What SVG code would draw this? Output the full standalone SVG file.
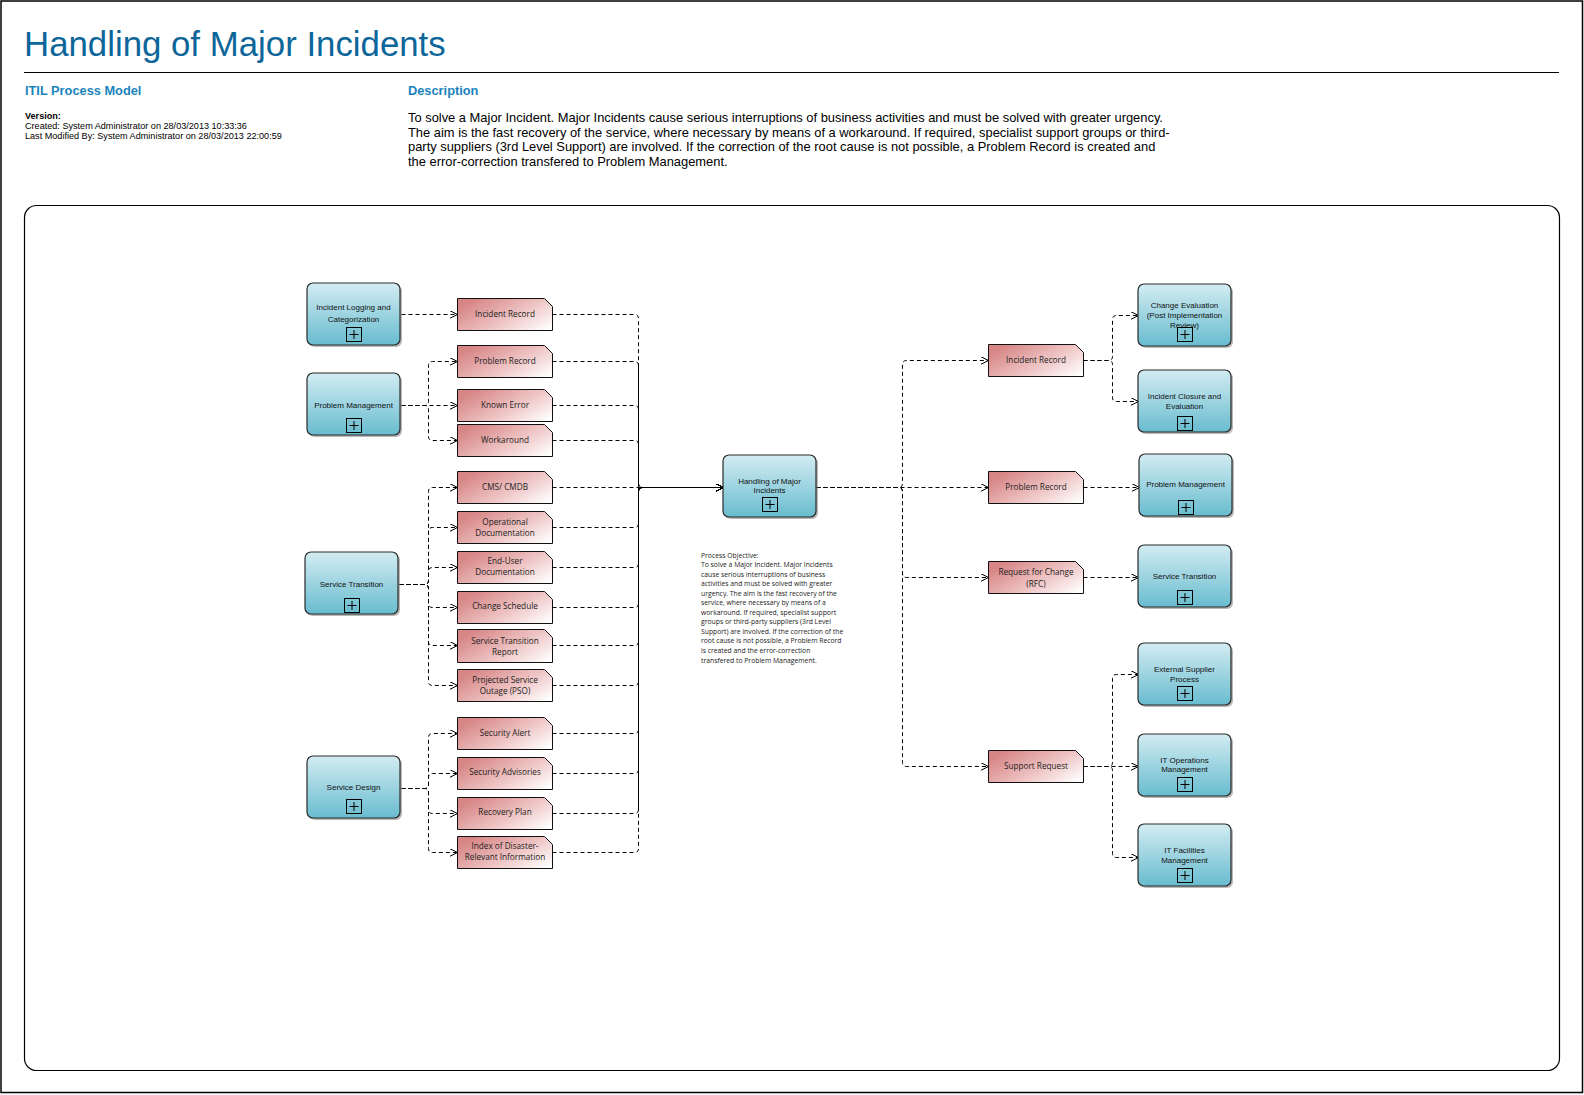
<svg xmlns="http://www.w3.org/2000/svg" width="1584" height="1095" viewBox="0 0 1584 1095">
<defs>
<linearGradient id="gBox" x1="0" y1="0" x2="0" y2="1">
<stop offset="0" stop-color="#d3ecf2"/>
<stop offset="1" stop-color="#68bccf"/>
</linearGradient>
<linearGradient id="gDoc" x1="0" y1="0.3" x2="1" y2="0.9">
<stop offset="0" stop-color="#d78585"/>
<stop offset="0.55" stop-color="#efc5c5"/>
<stop offset="1" stop-color="#ffffff"/>
</linearGradient>
<marker id="arr" markerWidth="10" markerHeight="10" refX="8" refY="4" orient="auto" markerUnits="userSpaceOnUse">
<path d="M0,0 L8,4 L0,8" fill="none" stroke="#000" stroke-width="1" stroke-dasharray="none"/>
</marker>
<style>
.box{fill:url(#gBox);stroke:#2a2a2a;stroke-width:1.2}
.shadow{fill:#7d7d7d;opacity:.55}
.doc{fill:url(#gDoc);stroke:#111;stroke-width:1}
.plus{fill:none;stroke:#000;stroke-width:1}
.lbl{font-family:"Liberation Sans",Arial,sans-serif;font-size:8px;fill:#111;text-anchor:middle}
.dl{font-family:"Open Sans",sans-serif;font-size:8.2px;fill:#222;text-anchor:middle}
.con{fill:none;stroke:#000;stroke-width:1;stroke-dasharray:4 3;marker-end:url(#arr)}
.trunk{fill:none;stroke:#000;stroke-width:1}
.hdr{font-family:"Liberation Sans",Arial,sans-serif}
.obj{font-family:"Open Sans",sans-serif;font-size:6.8px;fill:#222}
</style>
</defs>
<rect x="0" y="0" width="1584" height="1095" fill="#fff"/>
<rect x="1" y="1" width="1581.5" height="1091.5" fill="none" stroke="#000" stroke-width="1.5"/>

<g id="header" class="hdr">
<text x="24" y="56" font-size="34.8" fill="#0d6699">Handling of Major Incidents</text>
<line x1="24" y1="72.5" x2="1559" y2="72.5" stroke="#000" stroke-width="1"/>
<text x="25" y="95" font-size="12.8" font-weight="bold" fill="#1b84bd">ITIL Process Model</text>
<text x="25" y="119" font-size="9.1" font-weight="bold" fill="#000">Version:</text>
<text x="25" y="129" font-size="9.1" fill="#000">Created: System Administrator on 28/03/2013 10:33:36</text>
<text x="25" y="139" font-size="9.1" fill="#000">Last Modified By: System Administrator on 28/03/2013 22:00:59</text>
<text x="408" y="95" font-size="12.8" font-weight="bold" fill="#1b84bd">Description</text>
<text x="408" y="121.5" font-size="12.9" fill="#000">To solve a Major Incident. Major Incidents cause serious interruptions of business activities and must be solved with greater urgency.</text>
<text x="408" y="136.5" font-size="12.9" fill="#000">The aim is the fast recovery of the service, where necessary by means of a workaround. If required, specialist support groups or third-</text>
<text x="408" y="151" font-size="12.9" fill="#000">party suppliers (3rd Level Support) are involved. If the correction of the root cause is not possible, a Problem Record is created and</text>
<text x="408" y="166" font-size="12.9" fill="#000">the error-correction transfered to Problem Management.</text>
</g>

<rect id="frame" x="24.5" y="205.5" width="1535" height="865" rx="12" fill="none" stroke="#000" stroke-width="1.2"/>

<g id="connectors" transform="translate(0.5,0.5)">
<path class="con" d="M401,314 H457"/>
<path class="con" d="M401,405 H424 Q428,405 428,401 V365 Q428,361 432,361 H457"/>
<path class="con" d="M401,405 H457"/>
<path class="con" d="M401,405 H424 Q428,405 428,409 V436 Q428,440 432,440 H457"/>
<path class="con" d="M399,584 H424 Q428,584 428,580 V491 Q428,487 432,487 H457"/>
<path class="con" d="M399,584 H424 Q428,584 428,580 V531 Q428,527 432,527 H457"/>
<path class="con" d="M399,584 H424 Q428,584 428,580 V571 Q428,567 432,567 H457"/>
<path class="con" d="M399,584 H424 Q428,584 428,588 V603 Q428,607 432,607 H457"/>
<path class="con" d="M399,584 H424 Q428,584 428,588 V641 Q428,645 432,645 H457"/>
<path class="con" d="M399,584 H424 Q428,584 428,588 V681 Q428,685 432,685 H457"/>
<path class="con" d="M401,788 H424 Q428,788 428,784 V737 Q428,733 432,733 H457"/>
<path class="con" d="M401,788 H424 Q428,788 428,784 V777 Q428,773 432,773 H457"/>
<path class="con" d="M401,788 H424 Q428,788 428,792 V809 Q428,813 432,813 H457"/>
<path class="con" d="M401,788 H424 Q428,788 428,792 V848 Q428,852 432,852 H457"/>
<path class="trunk" d="M638,365 V809 M642,487 H715"/>
<path class="con" d="M552,314 H634 Q638,314 638,318 V483 Q638,487 642,487 H723"/>
<path class="con" d="M552,361 H634 Q638,361 638,365 V483 Q638,487 642,487 H723"/>
<path class="con" d="M552,405 H634 Q638,405 638,409 V483 Q638,487 642,487 H723"/>
<path class="con" d="M552,440 H634 Q638,440 638,444 V483 Q638,487 642,487 H723"/>
<path class="con" d="M552,487 H723"/>
<path class="con" d="M552,527 H634 Q638,527 638,523 V491 Q638,487 642,487 H723"/>
<path class="con" d="M552,567 H634 Q638,567 638,563 V491 Q638,487 642,487 H723"/>
<path class="con" d="M552,607 H634 Q638,607 638,603 V491 Q638,487 642,487 H723"/>
<path class="con" d="M552,645 H634 Q638,645 638,641 V491 Q638,487 642,487 H723"/>
<path class="con" d="M552,685 H634 Q638,685 638,681 V491 Q638,487 642,487 H723"/>
<path class="con" d="M552,733 H634 Q638,733 638,729 V491 Q638,487 642,487 H723"/>
<path class="con" d="M552,773 H634 Q638,773 638,769 V491 Q638,487 642,487 H723"/>
<path class="con" d="M552,813 H634 Q638,813 638,809 V491 Q638,487 642,487 H723"/>
<path class="con" d="M552,852 H634 Q638,852 638,848 V491 Q638,487 642,487 H723"/>
<path class="con" d="M816,487 H898 Q902,487 902,483 V364 Q902,360 906,360 H988"/>
<path class="con" d="M816,487 H988"/>
<path class="con" d="M816,487 H898 Q902,487 902,491 V573 Q902,577 906,577 H988"/>
<path class="con" d="M816,487 H898 Q902,487 902,491 V762 Q902,766 906,766 H988"/>
<path class="con" d="M1083,360 H1108 Q1112,360 1112,356 V319 Q1112,315 1116,315 H1138"/>
<path class="con" d="M1083,360 H1108 Q1112,360 1112,364 V397 Q1112,401 1116,401 H1138"/>
<path class="con" d="M1083,487 H1139"/>
<path class="con" d="M1083,577 H1138"/>
<path class="con" d="M1083,766 H1108 Q1112,766 1112,762 V678 Q1112,674 1116,674 H1138"/>
<path class="con" d="M1083,766 H1138"/>
<path class="con" d="M1083,766 H1108 Q1112,766 1112,770 V853 Q1112,857 1116,857 H1138"/>
</g>

<g id="n-incident-logging">
<rect class="shadow" x="309" y="285" width="93" height="62" rx="6"/>
<rect class="box" x="307" y="283" width="93" height="62" rx="6"/>
<text class="lbl" x="353.5" y="310.3">Incident Logging and</text>
<text class="lbl" x="353.5" y="322">Categorization</text>
<rect class="plus" x="346.5" y="327.5" width="15" height="14"/>
<path class="plus" d="M349.5,334.5 H358.5 M354,330 V339"/>
</g>
<g id="n-problem-mgmt-left">
<rect class="shadow" x="309" y="375" width="93" height="62" rx="6"/>
<rect class="box" x="307" y="373" width="93" height="62" rx="6"/>
<text class="lbl" x="353.5" y="408">Problem Management</text>
<rect class="plus" x="346.5" y="418.5" width="15" height="14"/>
<path class="plus" d="M349.5,425.5 H358.5 M354,421 V430"/>
</g>
<g id="n-service-transition-left">
<rect class="shadow" x="307" y="554" width="93" height="62" rx="6"/>
<rect class="box" x="305" y="552" width="93" height="62" rx="6"/>
<text class="lbl" x="351.5" y="587">Service Transition</text>
<rect class="plus" x="344.5" y="598.5" width="15" height="14"/>
<path class="plus" d="M347.5,605.5 H356.5 M352,601 V610"/>
</g>
<g id="n-service-design">
<rect class="shadow" x="309" y="758" width="93" height="62" rx="6"/>
<rect class="box" x="307" y="756" width="93" height="62" rx="6"/>
<text class="lbl" x="353.5" y="790">Service Design</text>
<rect class="plus" x="346.5" y="799.5" width="15" height="14"/>
<path class="plus" d="M349.5,806.5 H358.5 M354,802 V811"/>
</g>

<g transform="translate(0.5,0.5)">
<g id="d-incident-record-l"><path class="doc" d="M457,298 H544 L552,306 V330 H457 Z"/><text class="dl" x="504.5" y="316.5">Incident Record</text></g>
<g id="d-problem-record-l"><path class="doc" d="M457,345 H544 L552,353 V377 H457 Z"/><text class="dl" x="504.5" y="363.5">Problem Record</text></g>
<g id="d-known-error"><path class="doc" d="M457,389 H544 L552,397 V421 H457 Z"/><text class="dl" x="504.5" y="407.5">Known Error</text></g>
<g id="d-workaround"><path class="doc" d="M457,424 H544 L552,432 V456 H457 Z"/><text class="dl" x="504.5" y="442.5">Workaround</text></g>
<g id="d-cms"><path class="doc" d="M457,471 H544 L552,479 V503 H457 Z"/><text class="dl" x="504.5" y="489.5">CMS/ CMDB</text></g>
<g id="d-op-doc"><path class="doc" d="M457,511 H544 L552,519 V543 H457 Z"/><text class="dl" x="504.5" y="524">Operational</text><text class="dl" x="504.5" y="535">Documentation</text></g>
<g id="d-enduser-doc"><path class="doc" d="M457,551 H544 L552,559 V583 H457 Z"/><text class="dl" x="504.5" y="563">End-User</text><text class="dl" x="504.5" y="574.5">Documentation</text></g>
<g id="d-change-schedule"><path class="doc" d="M457,591 H544 L552,599 V623 H457 Z"/><text class="dl" x="504.5" y="608.5">Change Schedule</text></g>
<g id="d-st-report"><path class="doc" d="M457,629 H544 L552,637 V662 H457 Z"/><text class="dl" x="504.5" y="643">Service Transition</text><text class="dl" x="504.5" y="654">Report</text></g>
<g id="d-pso"><path class="doc" d="M457,669 H544 L552,677 V701 H457 Z"/><text class="dl" x="504.5" y="682.3">Projected Service</text><text class="dl" x="504.5" y="693">Outage (PSO)</text></g>
<g id="d-security-alert"><path class="doc" d="M457,717 H544 L552,725 V749 H457 Z"/><text class="dl" x="504.5" y="735.3">Security Alert</text></g>
<g id="d-security-advisories"><path class="doc" d="M457,757 H544 L552,765 V789 H457 Z"/><text class="dl" x="504.5" y="774.7">Security Advisories</text></g>
<g id="d-recovery-plan"><path class="doc" d="M457,797 H544 L552,805 V829 H457 Z"/><text class="dl" x="504.5" y="814.7">Recovery Plan</text></g>
<g id="d-index-disaster"><path class="doc" d="M457,836 H544 L552,844 V868 H457 Z"/><text class="dl" x="504.5" y="848">Index of Disaster-</text><text class="dl" x="504.5" y="859.7">Relevant Information</text></g>

<g id="d-incident-record-r"><path class="doc" d="M988,344 H1075 L1083,352 V376 H988 Z"/><text class="dl" x="1035.5" y="362.5">Incident Record</text></g>
<g id="d-problem-record-r"><path class="doc" d="M988,471 H1075 L1083,479 V503 H988 Z"/><text class="dl" x="1035.5" y="489.5">Problem Record</text></g>
<g id="d-rfc"><path class="doc" d="M988,561 H1075 L1083,569 V593 H988 Z"/><text class="dl" x="1035.5" y="574.5">Request for Change</text><text class="dl" x="1035.5" y="586">(RFC)</text></g>
<g id="d-support-request"><path class="doc" d="M988,750 H1075 L1083,758 V782 H988 Z"/><text class="dl" x="1035.5" y="768.5">Support Request</text></g>
</g>

<g id="n-handling-major-incidents">
<rect class="shadow" x="725" y="457" width="93" height="62" rx="6"/>
<rect class="box" x="723" y="455" width="93" height="62" rx="6"/>
<text class="lbl" x="769.5" y="483.5">Handling of Major</text>
<text class="lbl" x="769.5" y="493">Incidents</text>
<rect class="plus" x="762.5" y="497.5" width="15" height="14"/>
<path class="plus" d="M765.5,504.5 H774.5 M770,500 V509"/>
</g>

<g id="process-objective" class="obj">
<text x="701" y="557.5">Process Objective:</text>
<text x="701" y="567">To solve a Major Incident. Major Incidents</text>
<text x="701" y="576.6">cause serious interruptions of business</text>
<text x="701" y="586.1">activities and must be solved with greater</text>
<text x="701" y="595.7">urgency. The aim is the fast recovery of the</text>
<text x="701" y="605.2">service, where necessary by  means of a</text>
<text x="701" y="614.8">workaround. If required, specialist support</text>
<text x="701" y="624.3">groups or third-party suppliers (3rd Level</text>
<text x="701" y="633.9">Support) are  involved. If the correction of the</text>
<text x="701" y="643.4">root cause is not   possible, a Problem Record</text>
<text x="701" y="653">is created and the   error-correction</text>
<text x="701" y="662.5">transfered to Problem Management.</text>
</g>

<g id="n-change-evaluation">
<rect class="shadow" x="1140" y="286" width="93" height="62" rx="6"/>
<rect class="box" x="1138" y="284" width="93" height="62" rx="6"/>
<text class="lbl" x="1184.5" y="308">Change Evaluation</text>
<text class="lbl" x="1184.5" y="318">(Post Implementation</text>
<text class="lbl" x="1184.5" y="328">Review)</text>
<rect class="plus" x="1177.5" y="327.5" width="15" height="14"/>
<path class="plus" d="M1180.5,334.5 H1189.5 M1185,330 V339"/>
</g>
<g id="n-incident-closure">
<rect class="shadow" x="1140" y="372" width="93" height="62" rx="6"/>
<rect class="box" x="1138" y="370" width="93" height="62" rx="6"/>
<text class="lbl" x="1184.5" y="399">Incident Closure and</text>
<text class="lbl" x="1184.5" y="408.5">Evaluation</text>
<rect class="plus" x="1177.5" y="416.5" width="15" height="14"/>
<path class="plus" d="M1180.5,423.5 H1189.5 M1185,419 V428"/>
</g>
<g id="n-problem-mgmt-right">
<rect class="shadow" x="1141" y="456" width="93" height="62" rx="6"/>
<rect class="box" x="1139" y="454" width="93" height="62" rx="6"/>
<text class="lbl" x="1185.5" y="487">Problem Management</text>
<rect class="plus" x="1178.5" y="500.5" width="15" height="14"/>
<path class="plus" d="M1181.5,507.5 H1190.5 M1186,503 V512"/>
</g>
<g id="n-service-transition-right">
<rect class="shadow" x="1140" y="547" width="93" height="62" rx="6"/>
<rect class="box" x="1138" y="545" width="93" height="62" rx="6"/>
<text class="lbl" x="1184.5" y="579">Service Transition</text>
<rect class="plus" x="1177.5" y="590.5" width="15" height="14"/>
<path class="plus" d="M1180.5,597.5 H1189.5 M1185,593 V602"/>
</g>
<g id="n-external-supplier">
<rect class="shadow" x="1140" y="645" width="93" height="62" rx="6"/>
<rect class="box" x="1138" y="643" width="93" height="62" rx="6"/>
<text class="lbl" x="1184.5" y="672">External Supplier</text>
<text class="lbl" x="1184.5" y="681.5">Process</text>
<rect class="plus" x="1177.5" y="686.5" width="15" height="14"/>
<path class="plus" d="M1180.5,693.5 H1189.5 M1185,689 V698"/>
</g>
<g id="n-it-operations">
<rect class="shadow" x="1140" y="736" width="93" height="62" rx="6"/>
<rect class="box" x="1138" y="734" width="93" height="62" rx="6"/>
<text class="lbl" x="1184.5" y="763">IT Operations</text>
<text class="lbl" x="1184.5" y="772">Management</text>
<rect class="plus" x="1177.5" y="777.5" width="15" height="14"/>
<path class="plus" d="M1180.5,784.5 H1189.5 M1185,780 V789"/>
</g>
<g id="n-it-facilities">
<rect class="shadow" x="1140" y="826" width="93" height="62" rx="6"/>
<rect class="box" x="1138" y="824" width="93" height="62" rx="6"/>
<text class="lbl" x="1184.5" y="853">IT Facilities</text>
<text class="lbl" x="1184.5" y="862.5">Management</text>
<rect class="plus" x="1177.5" y="868.5" width="15" height="14"/>
<path class="plus" d="M1180.5,875.5 H1189.5 M1185,871 V880"/>
</g>
</svg>
